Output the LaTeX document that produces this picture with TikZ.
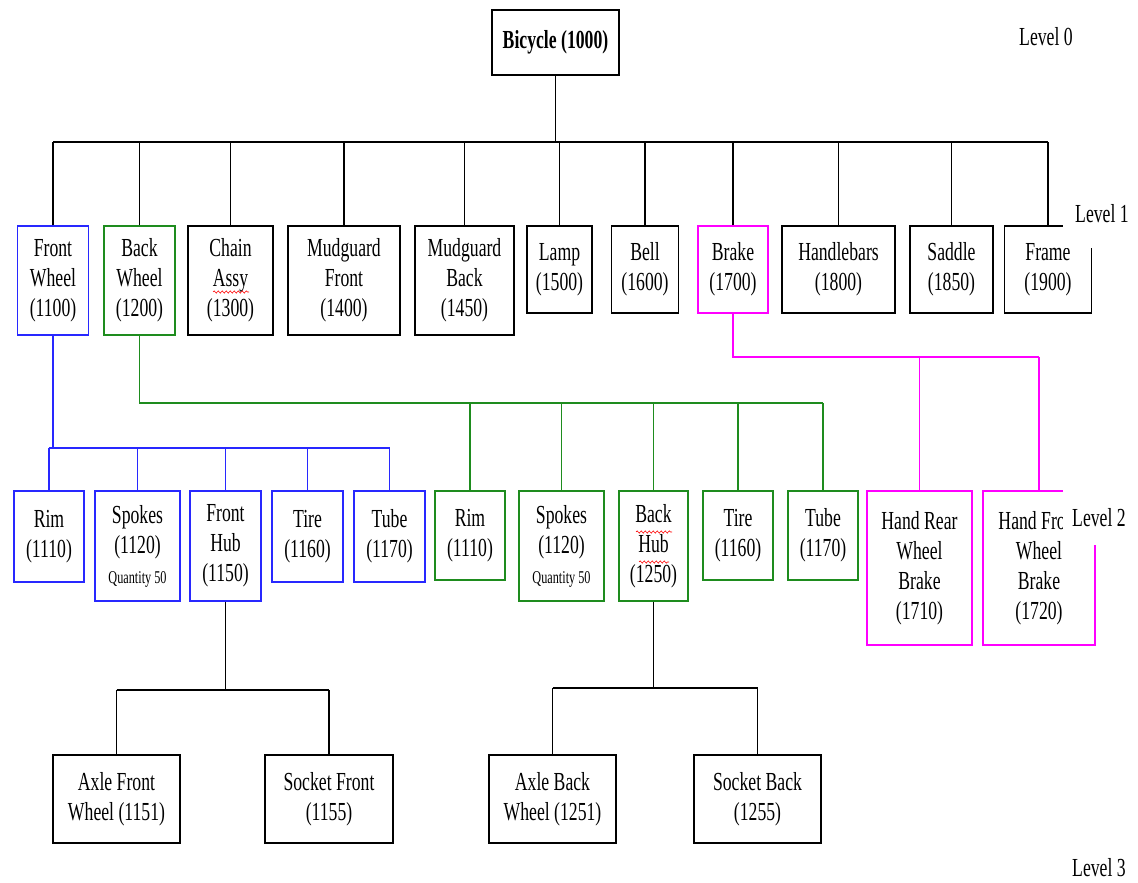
\documentclass[tikz,border=0pt]{standalone}
\usepackage{fontspec}
\setmainfont{Liberation Serif}[FakeStretch=0.68]
\usetikzlibrary{decorations.pathmorphing}
\definecolor{bl}{RGB}{40,40,255}
\definecolor{gr}{RGB}{30,140,30}
\definecolor{mg}{RGB}{255,0,255}
\begin{document}
\begin{tikzpicture}[x=1pt,y=-1pt,
 box/.style={draw=black, line width=1.4pt, align=center, inner sep=0pt, font=\fontsize{26}{30}\selectfont},
 lvl/.style={font=\fontsize{26}{30}\selectfont, inner sep=0pt},
 conn/.style={line width=1.2pt},
 wavy/.style={red, line width=0.6pt, decorate, decoration={snake, amplitude=1.1pt, segment length=4pt}},
]
\useasboundingbox (0,0) rectangle (1138,883);
% Level 0
\node[box, minimum width=127, minimum height=65, font=\fontsize{26}{30}\selectfont\bfseries] (bike) at (555.5,42.5) {Bicycle (1000)};
% Level 1
\node[box, draw=bl, minimum width=71, minimum height=109] (fw) at (53,280.5) {Front\\Wheel\\(1100)};
\node[box, draw=gr, minimum width=71, minimum height=109] (bw) at (139.5,280.5) {Back\\Wheel\\(1200)};
\node[box, minimum width=85, minimum height=109] (chain) at (230.5,280.5) {Chain\\Assy\\(1300)};
\node[box, minimum width=112, minimum height=109] (mf) at (344,280.5) {Mudguard\\Front\\(1400)};
\node[box, minimum width=99, minimum height=109] (mb) at (464.5,280.5) {Mudguard\\Back\\(1450)};
\node[box, minimum width=65, minimum height=87] (lamp) at (559.5,269.5) {Lamp\\(1500)};
\node[box, minimum width=67, minimum height=87] (bell) at (645,269.5) {Bell\\(1600)};
\node[box, draw=mg, minimum width=70, minimum height=87] (brake) at (733,269.5) {Brake\\(1700)};
\node[box, minimum width=113, minimum height=87] (handle) at (838.5,269.5) {Handlebars\\(1800)};
\node[box, minimum width=83, minimum height=87] (saddle) at (951.5,269.5) {Saddle\\(1850)};
\node[box, minimum width=87, minimum height=87] (frame) at (1048,269.5) {Frame\\(1900)};
% Level 2
\node[box, draw=bl, minimum width=70, minimum height=91] (rimA) at (49,536.5) {Rim\\(1110)};
\node[box, draw=bl, minimum width=85, minimum height=110] (spA) at (137.5,546) {Spokes\\(1120)\\{\fontsize{18}{30}\selectfont Quantity 50}};
\node[box, draw=bl, minimum width=71, minimum height=110] (fhub) at (225.5,546) {Front\\Hub\\(1150)};
\node[box, draw=bl, minimum width=71, minimum height=91] (tireA) at (307.5,536.5) {Tire\\(1160)};
\node[box, draw=bl, minimum width=71, minimum height=91] (tubeA) at (389.5,536.5) {Tube\\(1170)};
\node[box, draw=gr, minimum width=70, minimum height=89] (rimB) at (470,535.5) {Rim\\(1110)};
\node[box, draw=gr, minimum width=85, minimum height=110] (spB) at (561.5,546) {Spokes\\(1120)\\{\fontsize{18}{30}\selectfont Quantity 50}};
\node[box, draw=gr, minimum width=69, minimum height=110] (bhub) at (653.5,546) {Back\\Hub\\(1250)};
\node[box, draw=gr, minimum width=70, minimum height=89] (tireB) at (738,535.5) {Tire\\(1160)};
\node[box, draw=gr, minimum width=70, minimum height=89] (tubeB) at (823,535.5) {Tube\\(1170)};
\node[box, draw=mg, minimum width=105, minimum height=154] (hrb) at (919.5,568) {Hand Rear\\Wheel\\Brake\\(1710)};
\node[box, draw=mg, minimum width=112, minimum height=154] (hfb) at (1039,568) {Hand Front\\Wheel\\Brake\\(1720)};
% Level 3
\node[box, minimum width=127, minimum height=88] (afw) at (116.5,799) {Axle Front\\Wheel (1151)};
\node[box, minimum width=128, minimum height=88] (sf) at (329,799) {Socket Front\\(1155)};
\node[box, minimum width=127, minimum height=88] (abw) at (552.5,799) {Axle Back\\Wheel (1251)};
\node[box, minimum width=127, minimum height=88] (sb) at (757.5,799) {Socket Back\\(1255)};
% connectors level 0 -> 1
\draw[conn] (bike.south) -- (bike.south |- 0,142);
\draw[conn] (fw.north |- 0,142) -- (frame.north |- 0,142);
\foreach \n in {fw,bw,chain,mf,mb,lamp,bell,brake,handle,saddle,frame}
  \draw[conn] (\n.north) -- (\n.north |- 0,142);
% front wheel (blue)
\draw[conn, bl] (fw.south) -- (fw.south |- 0,448);
\draw[conn, bl] (rimA.north |- 0,448) -- (tubeA.north |- 0,448);
\foreach \n in {rimA,spA,fhub,tireA,tubeA}
  \draw[conn, bl] (\n.north) -- (\n.north |- 0,448);
% back wheel (green)
\draw[conn, gr] (bw.south) -- (bw.south |- 0,403) -- (tubeB.north |- 0,403);
\foreach \n in {rimB,spB,bhub,tireB,tubeB}
  \draw[conn, gr] (\n.north) -- (\n.north |- 0,403);
% brake (magenta)
\draw[conn, mg] (brake.south) -- (brake.south |- 0,357) -- (hfb.north |- 0,357);
\foreach \n in {hrb,hfb}
  \draw[conn, mg] (\n.north) -- (\n.north |- 0,357);
% front hub
\draw[conn] (fhub.south) -- (fhub.south |- 0,690);
\draw[conn] (afw.north |- 0,690) -- (sf.north |- 0,690);
\foreach \n in {afw,sf}
  \draw[conn] (\n.north) -- (\n.north |- 0,690);
% back hub
\draw[conn] (bhub.south) -- (bhub.south |- 0,688);
\draw[conn] (abw.north |- 0,688) -- (sb.north |- 0,688);
\foreach \n in {abw,sb}
  \draw[conn] (\n.north) -- (\n.north |- 0,688);
% spell-check squiggles
\draw[wavy] (213,292) -- (249,292);
\draw[wavy] (636,532) -- (672,532);
\draw[wavy] (639,562) -- (669,562);
% level labels
\node[lvl, anchor=west] (l0) at (1019,37) {Level 0};
\node[lvl, fill=white, anchor=north west, inner xsep=12pt, text height=22pt, text depth=26pt] (l1) at (1063,200) {Level 1};
\node[lvl, fill=white, anchor=north west, inner xsep=9pt, text height=41pt, text depth=19pt] (l2) at (1063,485) {Level 2};
\node[lvl, anchor=west] (l3) at (1072,868) {Level 3};
\end{tikzpicture}
\end{document}
